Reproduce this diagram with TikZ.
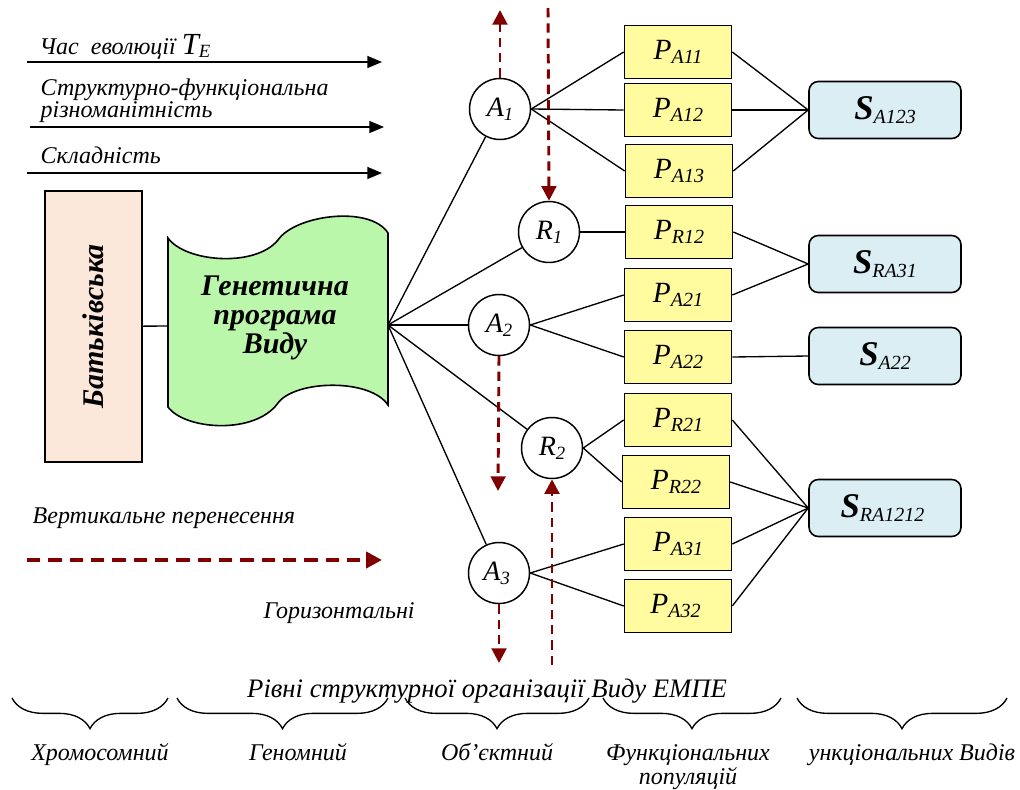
\documentclass[tikz,border=0pt]{standalone}
\usepackage{fontspec}
\setmainfont{Liberation Serif}
\usetikzlibrary{arrows.meta,decorations.pathreplacing}

\definecolor{tapegreen}{HTML}{BBF7AB}
\definecolor{parentpeach}{HTML}{FCE8DA}
\definecolor{popyellow}{HTML}{FFFB9E}
\definecolor{viewblue}{HTML}{DAEEF3}
\definecolor{transred}{HTML}{800000}

\newcommand{\lowsub}[1]{\raisebox{-0.45ex}{#1}}

\tikzset{
    levelnode/.style={circle, draw, line width=1.1pt, fill=white, minimum size=45.75pt,
        inner sep=0pt, font=\fontsize{14}{15}\selectfont\itshape},
    popbox/.style={draw, line width=1.2pt, fill=popyellow, minimum width=80.25pt,
        minimum height=39.75pt, inner sep=0pt, font=\fontsize{15}{16}\selectfont\itshape},
    viewbox/.style={draw, line width=1.2pt, fill=viewblue, rounded corners=7pt,
        minimum width=114pt, minimum height=42.75pt, inner sep=0pt,
        font=\fontsize{15}{16}\selectfont\itshape},
    link/.style={line width=1pt},
    axisarrow/.style={line width=1pt, -{Triangle[length=11pt,width=9pt]}},
    transfer/.style={draw=transred, line width=2.2pt, dash pattern=on 7pt off 4.5pt,
        -{Triangle[length=11pt,width=11pt]}},
    caption/.style={font=\fontsize{18}{20}\selectfont\itshape},
}

\begin{document}
\begin{tikzpicture}[x=0.75pt,y=-0.75pt]
        \useasboundingbox (0,0) rectangle (1020,789);

        % осі еволюції зверху
        \coordinate (t1s) at (27,62);
        \coordinate (t1e) at (382,62);
        \coordinate (t2s) at (30,127);
        \coordinate (t2e) at (384,127);
        \coordinate (t3s) at (27,173);
        \coordinate (t3e) at (382,173);
        \coordinate (vts) at (27,560);
        \coordinate (vte) at (382,560);

        \node[caption, anchor=base west] (time) at (35,54)
            {Час\ \ еволюції {\fontsize{23}{25}\selectfont T}{\fontsize{14}{15}\selectfont\lowsub{E}}};
        \node[caption, anchor=base west] (diversity) at (36,95) {Структурно-функціональна};
        \node[caption, anchor=base west] (diversity2) at (36,117) {різноманітність};
        \node[caption, anchor=base west] (complexity) at (36,163) {Складність};
        \node[caption, anchor=base west] (vertical) at (28,523) {Вертикальне перенесення};
        \node[caption, anchor=base west] (horizontal) at (259,618) {Горизонтальні};

        \draw[axisarrow] (t1s) -- (t1e);
        \draw[axisarrow] (t2s) -- (t2e);
        \draw[axisarrow] (t3s) -- (t3e);
        \draw[transfer, line width=3pt, dash pattern=on 10pt off 6pt,
            -{Triangle[length=12pt,width=12pt]}] (vts) -- (vte);

        % батьківська форма і генетична програма
        \node[draw, line width=1.2pt, fill=parentpeach, rotate=90, minimum width=203.25pt,
            minimum height=72.75pt, font=\fontsize{22.5}{24}\selectfont\bfseries\itshape]
            (parent) at (93.5,326.5) {Батьківська};

        \draw[line width=1.2pt, fill=tapegreen]
        (168,238) .. controls (185,262) and (255,268) .. (278,240)
        .. controls (295,215) and (370,205) .. (388,233) -- (388,405)
        .. controls (370,378) and (295,380) .. (278,403)
        .. controls (255,435) and (185,430) .. (168,407) -- cycle;
        \node[align=center, font=\fontsize{22.5}{22}\selectfont\bfseries\itshape]
            (genprog) at (275,318) {Генетична\\програма\\Виду};
        \coordinate (genprog-in) at (168,326);
        \coordinate (genprog-out) at (388,325);

        \draw[link] (parent) -- (genprog-in);

        % рівні A і R
        \foreach \n/\x/\y/\l/\i in
        {   A1/500/109/A/1,
            R1/549/232/R/1,
            A2/499/325/A/2,
            R2/552/448/R/2,
            A3/499/573/A/3
        }
        {
            \node[levelnode] (\n) at (\x,\y) {{\fontsize{21}{22}\selectfont \l}\lowsub{\i}};
        };

        % популяції P
        \foreach \n/\x/\y/\t in
        {   PA11/678/52/A11,
            PA12/678/110/A12,
            PA13/679/171/A13,
            PR12/679/232/R12,
            PA21/678/295/A21,
            PA22/678/357/A22,
            PR21/678/420/R21,
            PR22/676/482/R22,
            PA31/678/544/A31,
            PA32/678/606/A32
        }
        {
            \node[popbox] (\n) at (\x,\y) {{\fontsize{22}{23}\selectfont P}\lowsub{\t}};
        };

        % види S
        \foreach \n/\y/\t in
        {   SA123/110/A123,
            SRA31/264/RA31,
            SA22/356/A22,
            SRA1212/508/RA1212
        }
        {
            \node[viewbox] (\n) at (885,\y) {{\fontsize{26}{28}\selectfont\bfseries S}\lowsub{\t}};
        };

        \foreach \b in {A1,R1,A2,R2,A3}
            \draw[link] (genprog-out) -- (\b);

        \foreach \a/\b in {A1/PA11, A1/PA12, A1/PA13, R1/PR12, A2/PA21, A2/PA22,
            R2/PR21, R2/PR22, A3/PA31, A3/PA32}
            \draw[link] (\a.east) -- (\b.west);

        \foreach \a/\b in {PA11/SA123, PA12/SA123, PA13/SA123, PR12/SRA31, PA21/SRA31,
            PA22/SA22, PR21/SRA1212, PR22/SRA1212, PA31/SRA1212, PA32/SRA1212}
            \draw[link] (\a.east) -- (\b.west);

        % горизонтальні перенесення
        \coordinate (upA1) at (500,10);
        \coordinate (topR1) at (548,8);
        \coordinate (downA2) at (498,491);
        \coordinate (botR2) at (552,665);
        \coordinate (downA3) at (499,663);

        \draw[transfer] (A1.north) -- (upA1);
        \draw[transfer] (topR1) -- (R1.north);
        \draw[transfer] (A2.south) -- (downA2);
        \draw[transfer] (botR2) -- (R2.south);
        \draw[transfer] (A3.south) -- (downA3);

        % рівні організації внизу
        \node[caption, font=\fontsize{20}{22}\selectfont\itshape, anchor=base] (levels)
            at (487,697) {Рівні структурної організації Виду ЕМПЕ};

        \foreach \l/\r in {12/168, 177/388, 405/589, 603/781, 797/1007}
            \draw[line width=1pt, decorate, decoration={brace, mirror, amplitude=23pt}]
            (\l,698) -- (\r,698);

        \node[caption, anchor=base] (chromosome) at (100,760) {Хромосомний};
        \node[caption, anchor=base] (genome) at (298,760) {Геномний};
        \node[caption, anchor=base] (object) at (497,760) {Об’єктний};
        \node[caption, font=\fontsize{18}{15.5}\selectfont\itshape, align=center, inner sep=0pt]
            (population) at (688,767) {Функціональних\\популяцій};
        \node[caption, anchor=base] (species) at (912,760) {ункціональних Видів};
\end{tikzpicture}
\end{document}
